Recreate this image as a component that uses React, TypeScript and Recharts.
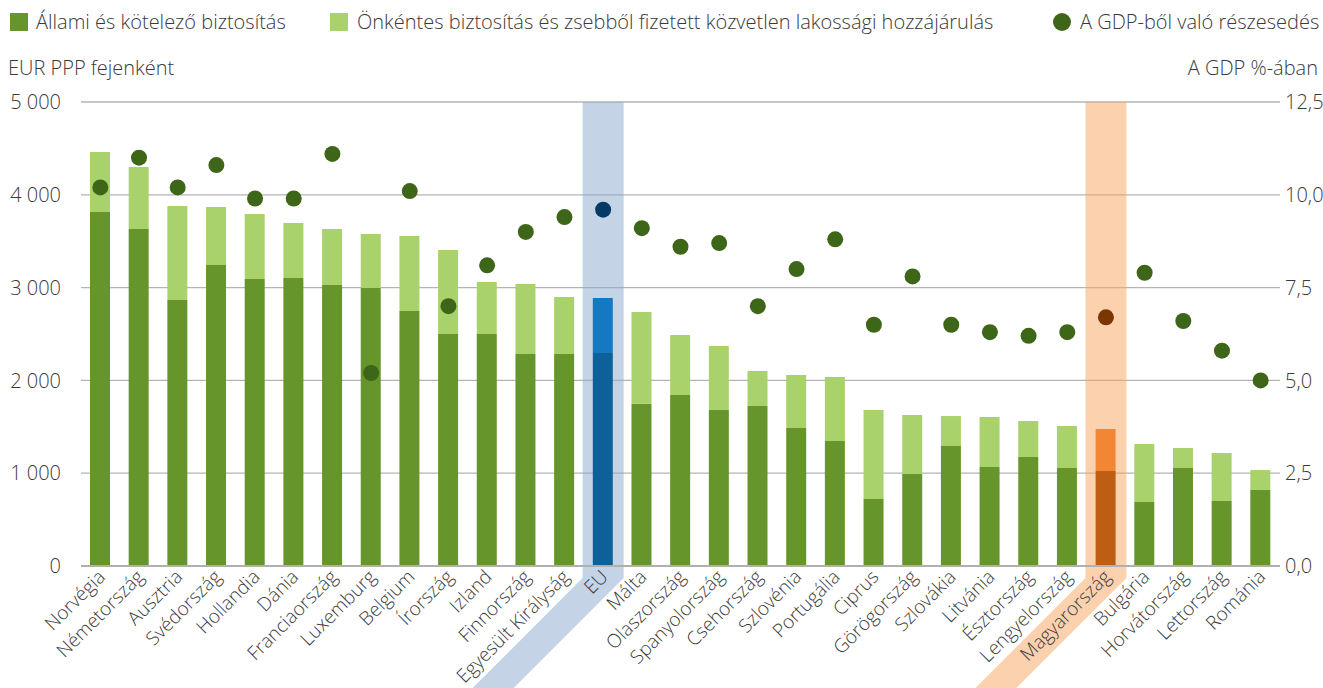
import React from 'react';
import { ComposedChart, Bar, Line, XAxis, YAxis, CartesianGrid, ReferenceArea, Cell } from 'recharts';

const categories = [
  'Norvégia', 'Németország', 'Ausztria', 'Svédország', 'Hollandia', 'Dánia', 'Franciaország',
  'Luxemburg', 'Belgium', 'Írország', 'Izland', 'Finnország', 'Egyesült Királyság', 'EU', 'Málta',
  'Olaszország', 'Spanyolország', 'Csehország', 'Szlovénia', 'Portugália', 'Ciprus', 'Görögország',
  'Szlovákia', 'Litvánia', 'Észtország', 'Lengyelország', 'Magyarország', 'Bulgária', 'Horvátország',
  'Lettország', 'Románia',
];

// Állami és kötelező biztosítás (EUR PPP / fő)
const stateValues = [
  3815, 3631, 2866, 3244, 3093, 3103, 3028, 2996, 2748, 2500, 2500, 2284, 2284, 2295, 1749,
  1843, 1681, 1724, 1487, 1347, 722, 991, 1293, 1067, 1175, 1056, 1024, 690, 1056, 700, 819,
];

// Önkéntes biztosítás és zsebből fizetett hozzájárulás (EUR PPP / fő)
const voluntaryValues = [
  646, 669, 1013, 625, 700, 593, 603, 582, 808, 905, 560, 755, 615, 593, 988,
  646, 689, 377, 571, 690, 959, 636, 323, 539, 387, 453, 452, 625, 216, 518, 215,
];

// A GDP-ből való részesedés (%)
const gdpShare = [
  10.2, 11.0, 10.2, 10.8, 9.9, 9.9, 11.1, 5.2, 10.1, 7.0, 8.1, 9.0, 9.4, 9.6, 9.1,
  8.6, 8.7, 7.0, 8.0, 8.8, 6.5, 7.8, 6.5, 6.3, 6.2, 6.3, 6.7, 7.9, 6.6, 5.8, 5.0,
];

const leftTicks = [0, 1000, 2000, 3000, 4000, 5000];
const rightTicks = [0, 2.5, 5, 7.5, 10, 12.5];

const legendLabels = [
  'Állami és kötelező biztosítás',
  'Önkéntes biztosítás és zsebből fizetett közvetlen lakossági hozzájárulás',
  'A GDP-ből való részesedés',
];
const leftTitle = 'EUR PPP fejenként';
const rightTitle = 'A GDP %-ában';

const EU = 'EU';
const HU = 'Magyarország';

const C = {
  state: '#66952c',
  vol: '#a9d26d',
  dot: '#3d6619',
  euState: '#0d6098',
  euVol: '#1479c0',
  euDot: '#063a66',
  euBand: '#8ba7cd',
  huState: '#be5e15',
  huVol: '#f38634',
  huDot: '#7a3703',
  huBand: '#f9a35d',
  grid: '#b4b4b4',
  text: '#3a3a3a',
};

const FONT = '"Open Sans", sans-serif';
const FS = 20;
const FS_CAT = 19;
const FW = 300;

const data = categories.map((name, i) => ({
  name,
  state: stateValues[i],
  voluntary: voluntaryValues[i],
  gdp: gdpShare[i],
}));

const stateColor = (n: string) => (n === EU ? C.euState : n === HU ? C.huState : C.state);
const volColor = (n: string) => (n === EU ? C.euVol : n === HU ? C.huVol : C.vol);
const dotColor = (n: string) => (n === EU ? C.euDot : n === HU ? C.huDot : C.dot);

const bandShape = (color: string) => (props: any) => {
  const { x, y, width, height } = props;
  const cx = x + width / 2;
  const hw = 20.5;
  const bottom = y + height;
  const bend = bottom + 12;
  const drop = 160;
  const pts = [
    [cx - hw, y],
    [cx + hw, y],
    [cx + hw, bend],
    [cx + hw - drop, bend + drop],
    [cx - hw - drop, bend + drop],
    [cx - hw, bend],
  ]
    .map((p) => p.join(','))
    .join(' ');
  return <polygon points={pts} fill={color} fillOpacity={0.5} />;
};

const CategoryTick = (props: any) => {
  const { x, y, payload } = props;
  const ax = x + 6;
  const ay = y + 12;
  return (
    <text
      x={ax}
      y={ay}
      transform={`rotate(-45, ${ax}, ${ay})`}
      textAnchor="end"
      fontFamily={FONT}
      fontSize={FS_CAT}
      fontWeight={FW}
      fill={C.text}
    >
      {payload.value}
    </text>
  );
};

const DotShape = (props: any) => {
  const { cx, cy, payload } = props;
  if (cx == null || cy == null) return null;
  return <circle key={payload.name} cx={cx} cy={cy} r={8} fill={dotColor(payload.name)} />;
};

const fmtLeft = (v: number) => (v === 0 ? '0' : `${v / 1000}\u00a0000`);
const fmtRight = (v: number) => v.toFixed(1).replace('.', ',');

const textStyle: React.CSSProperties = {
  position: 'absolute',
  fontSize: FS,
  fontWeight: FW,
  lineHeight: '24px',
  whiteSpace: 'nowrap',
};

export default function App() {
  return (
    <div style={{ position: 'relative', width: 1323, height: 688, fontFamily: FONT, color: C.text }}>
      <style>{`body{margin:0}`}</style>
      {/* Legend */}
      <div style={{ position: 'absolute', left: 10, top: 13, width: 18, height: 18, background: C.state }} />
      <div style={{ ...textStyle, left: 36, top: 10 }}>{legendLabels[0]}</div>
      <div style={{ position: 'absolute', left: 330, top: 13, width: 18, height: 18, background: C.vol }} />
      <div style={{ ...textStyle, left: 357, top: 10 }}>{legendLabels[1]}</div>
      <div style={{ position: 'absolute', left: 1053, top: 13, width: 18, height: 18, borderRadius: 9, background: C.dot }} />
      <div style={{ ...textStyle, left: 1080, top: 10 }}>{legendLabels[2]}</div>
      {/* Axis titles */}
      <div style={{ ...textStyle, left: 8, top: 56 }}>{leftTitle}</div>
      <div style={{ ...textStyle, right: 5, top: 56 }}>{rightTitle}</div>
      <div style={{ position: 'absolute', left: 0, top: 0 }}>
        <ComposedChart
          width={1323}
          height={688}
          data={data}
          margin={{ top: 102, right: 0, bottom: 0, left: 0 }}
          barCategoryGap={0}
        >
          <ReferenceArea
            yAxisId="left"
            x1={EU}
            x2={EU}
            ifOverflow="visible"
            shape={bandShape(C.euBand)}
          />
          <ReferenceArea
            yAxisId="left"
            x1={HU}
            x2={HU}
            ifOverflow="visible"
            shape={bandShape(C.huBand)}
          />
          <CartesianGrid yAxisId="left" vertical={false} stroke={C.grid} strokeWidth={1.3} />
          <XAxis
            dataKey="name"
            interval={0}
            height={122}
            tickLine={false}
            tickSize={0}
            tickMargin={0}
            axisLine={{ stroke: '#b0b0b0', strokeWidth: 2 }}
            tick={<CategoryTick />}
          />
          <YAxis
            yAxisId="left"
            width={81}
            domain={[0, 5000]}
            ticks={leftTicks}
            tickFormatter={fmtLeft}
            axisLine={false}
            tickLine={false}
            tickSize={0}
            tickMargin={20}
            tick={{ fill: C.text, fontSize: FS, fontWeight: FW, fontFamily: FONT }}
          />
          <YAxis
            yAxisId="right"
            orientation="right"
            width={43}
            domain={[0, 12.5]}
            ticks={rightTicks}
            tickFormatter={fmtRight}
            axisLine={false}
            tickLine={false}
            tickSize={0}
            tickMargin={5}
            tick={{ fill: C.text, fontSize: FS, fontWeight: FW, fontFamily: FONT, textAnchor: 'start' }}
          />
          <Bar yAxisId="left" dataKey="state" stackId="s" barSize={20} isAnimationActive={false}>
            {data.map((d) => (
              <Cell key={d.name} fill={stateColor(d.name)} />
            ))}
          </Bar>
          <Bar yAxisId="left" dataKey="voluntary" stackId="s" barSize={20} isAnimationActive={false}>
            {data.map((d) => (
              <Cell key={d.name} fill={volColor(d.name)} />
            ))}
          </Bar>
          <Line
            yAxisId="right"
            dataKey="gdp"
            stroke="none"
            strokeWidth={0}
            dot={<DotShape />}
            activeDot={false}
            isAnimationActive={false}
          />
        </ComposedChart>
      </div>
    </div>
  );
}
